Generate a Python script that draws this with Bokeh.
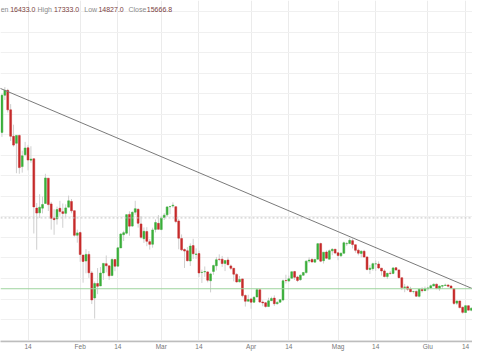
import pandas as pd
from bokeh.plotting import figure
from bokeh.models import Range1d, FixedTicker, Span, Label, ColumnDataSource
from bokeh.embed import file_html
from bokeh.resources import INLINE

# ---------------- data ----------------
start_date = "2018-01-05"
end_date = "2018-06-16"

jan_open = [15120, 16930, 17170, 16220, 14930, 14588, 14968, 13453, 14032, 14370, 13767, 13836, 11431, 11198, 11429, 11656, 12889, 11634, 10944, 10904, 11421, 11256, 11174, 11475, 11755, 11306, 10109]
jan_high = [17000, 17330, 17250, 16500, 15497, 14973, 15018, 14229, 14659, 14511, 14445, 13843, 11678, 12107, 11992, 13103, 12895, 11734, 11377, 11502, 11785, 11656, 11614, 12040, 11875, 11307, 10382]
jan_low = [14900, 16700, 16087, 14700, 14424, 13131, 13105, 13158, 13953, 13268, 13642, 10194, 9402, 10942, 11172, 11656, 11289, 10382, 10130, 10626, 11057, 10470, 10989, 11475, 11179, 10036, 9745]
jan_close = [16930, 17170, 16220, 14930, 14500, 14973, 13405, 13980, 14360, 13772, 13819, 11490, 11188, 11474, 11607, 12899, 11600, 10931, 10868, 11359, 11259, 11171, 11440, 11786, 11296, 10106, 10221]

feb_open = [10237, 9142, 8852, 9175, 8270, 7051, 7755, 7637, 8271, 8720, 8616, 8141, 8927, 8599, 9489, 10136, 10207, 11124, 10553, 11232, 11372, 10660, 9937, 10287, 9796, 9669, 10393, 10687]
feb_high = [10288, 9142, 9430, 9334, 8364, 7850, 8509, 8558, 8736, 9122, 8616, 8985, 8927, 9518, 10219, 10324, 11139, 11275, 11274, 11786, 11418, 11039, 10487, 10501, 9923, 10475, 10878, 11089]
feb_low = [8812, 7796, 8252, 8031, 6756, 6048, 7236, 7637, 7932, 8295, 7931, 8141, 8354, 8599, 9489, 9824, 10150, 10081, 10513, 11100, 10479, 9939, 9734, 9574, 9407, 9501, 10246, 10393]
feb_close = [9170, 8830, 9174, 8277, 6955, 7754, 7621, 8265, 8736, 8621, 8129, 8926, 8598, 9494, 10166, 10233, 11112, 10551, 11225, 11403, 10690, 10005, 10301, 9813, 9664, 10366, 10725, 10397]

mar_open = [10385, 10977, 11101, 11497, 11532, 11500, 10803, 9951, 9414, 9350, 8852, 9602, 9173, 9214, 8290, 8322, 8321, 7890, 8344, 8619, 8937, 8939, 8736, 8901, 8613, 8498, 8200, 7836, 7979, 7172, 6892]
mar_high = [11052, 11189, 11528, 11512, 11710, 11500, 10899, 10147, 9466, 9531, 9711, 9937, 9470, 9355, 8428, 8585, 8346, 8275, 8675, 9051, 9177, 9100, 8879, 9052, 8682, 8499, 8255, 8122, 7990, 7224, 7207]
mar_low = [10352, 10850, 11002, 11136, 11443, 10694, 9422, 9336, 8513, 8828, 8607, 8956, 8958, 8068, 7783, 8083, 7812, 7323, 8182, 8389, 8846, 8564, 8360, 8665, 8408, 7860, 7795, 7809, 7081, 6632, 6892]
mar_close = [10951, 11086, 11489, 11512, 11573, 10779, 9965, 9395, 9337, 8866, 9578, 9205, 9194, 8269, 8300, 8338, 7916, 8223, 8630, 8913, 8929, 8728, 8879, 8668, 8495, 8209, 7833, 7954, 7165, 6891, 6973]

apr_open = [7003, 6844, 7102, 7456, 6849, 6816, 6631, 6919, 7044, 6771, 6843, 6955, 7901, 7874, 8013, 8337, 8071, 7944, 8159, 8286, 8848, 8925, 8795, 8940, 9701, 8867, 9290, 8939, 9346, 9427]
apr_high = [7060, 7135, 7530, 7469, 6933, 6857, 7062, 7111, 7178, 6893, 6968, 7950, 8183, 8140, 8338, 8371, 8131, 8197, 8298, 8880, 9035, 9001, 8958, 9732, 9745, 9281, 9368, 9413, 9482, 9431]
apr_low = [6526, 6816, 7072, 6803, 6645, 6575, 6621, 6919, 6661, 6727, 6834, 6896, 7758, 7846, 8013, 7925, 7824, 7886, 8139, 8244, 8757, 8780, 8794, 8927, 8793, 8727, 8975, 8931, 9134, 9186]
apr_close = [6845, 7083, 7456, 6853, 6811, 6636, 6911, 7023, 6770, 6834, 6968, 7889, 7895, 7986, 8329, 8058, 7902, 8163, 8294, 8845, 8895, 8802, 8930, 9697, 8845, 9281, 8987, 9348, 9419, 9240]

may_open = [9251, 9104, 9233, 9695, 9700, 9845, 9645, 9380, 9223, 9325, 9052, 8441, 8478, 8713, 8705, 8504, 8370, 8092, 8255, 8246, 8522, 8419, 8037, 7562, 7592, 7487, 7362, 7371, 7130, 7469, 7406]
may_high = [9255, 9256, 9798, 9779, 9964, 9940, 9645, 9462, 9374, 9396, 9052, 8664, 8773, 8881, 8836, 8504, 8445, 8275, 8372, 8562, 8557, 8423, 8037, 7735, 7659, 7595, 7399, 7419, 7531, 7573, 7608]
may_low = [8891, 9051, 9188, 9585, 9695, 9465, 9258, 9127, 9031, 9040, 8394, 8223, 8378, 8367, 8456, 8143, 8054, 7972, 8183, 8205, 8365, 8004, 7433, 7331, 7397, 7340, 7270, 7113, 7076, 7313, 7391]
may_close = [9119, 9235, 9743, 9700, 9858, 9654, 9373, 9234, 9325, 9043, 8441, 8504, 8723, 8716, 8510, 8368, 8094, 8250, 8247, 8514, 8418, 8042, 7557, 7588, 7480, 7355, 7368, 7136, 7472, 7406, 7494]

jun_open = [7500, 7537, 7633, 7722, 7501, 7625, 7660, 7685, 7632, 7499, 6799, 6905, 6596, 6342, 6674, 6454]
jun_high = [7590, 7701, 7758, 7754, 7643, 7680, 7751, 7698, 7683, 7499, 6910, 6907, 6631, 6707, 6681, 6592]
jun_low = [7397, 7486, 7626, 7474, 7397, 7502, 7660, 7558, 7499, 6709, 6706, 6542, 6285, 6334, 6456, 6403]
jun_close = [7541, 7644, 7720, 7514, 7634, 7653, 7679, 7624, 7531, 6786, 6906, 6582, 6349, 6675, 6456, 6550]

tick_dates = ["2018-01-14", "2018-02-01", "2018-02-14", "2018-03-01", "2018-03-14", "2018-04-01",
              "2018-04-14", "2018-05-01", "2018-05-14", "2018-06-01", "2018-06-14"]
tick_labels = ["14", "Feb", "14", "Mar", "14", "Apr", "14", "Mag", "14", "Giu", "14"]

trend_dates = ["2018-01-04", "2018-06-17"]
trend_values = [17290, 7467]

resistance_level = 10952
support_level = 7500
grid_levels = list(range(5000, 22000, 1000))

header_names = ["en", "High", "Low", "Close"]
header_values = ["16433.0", "17333.0", "14827.0", "15666.8"]

# ---------------- build ----------------
opens = jan_open + feb_open + mar_open + apr_open + may_open + jun_open
highs = jan_high + feb_high + mar_high + apr_high + may_high + jun_high
lows = jan_low + feb_low + mar_low + apr_low + may_low + jun_low
closes = jan_close + feb_close + mar_close + apr_close + may_close + jun_close

origin = pd.Timestamp("2018-01-14")
dates = pd.date_range(start_date, end_date, freq="D")
days = [int(v) for v in (dates - origin).days]

GREEN = "#3aae3a"
RED = "#c62a2a"

src = ColumnDataSource(dict(
    x=days, o=opens, h=highs, l=lows, c=closes,
    top=[max(o, c) for o, c in zip(opens, closes)],
    bottom=[min(o, c) for o, c in zip(opens, closes)],
    color=[GREEN if c >= o else RED for o, c in zip(opens, closes)],
))

p = figure(width=472, height=352, output_backend="svg", toolbar_location=None,
           title=None, y_axis_location=None,
           x_range=Range1d(-9.5, 153.4), y_range=Range1d(4929, 21548))
p.min_border = 0
p.min_border_left = 0
p.min_border_right = 0
p.min_border_top = 0
p.min_border_bottom = 11
p.outline_line_color = None
p.background_fill_color = "white"

tick_days = [int((pd.Timestamp(t) - origin).days) for t in tick_dates]
p.xaxis.ticker = FixedTicker(ticks=tick_days)
p.xaxis.major_label_overrides = {d: lab for d, lab in zip(tick_days, tick_labels)}
p.xaxis.axis_line_color = "#bdbdbd"
p.xaxis.axis_line_width = 1.5
p.xaxis.major_tick_line_color = None
p.xaxis.major_tick_out = 0
p.xaxis.major_tick_in = 0
p.xaxis.minor_tick_line_color = None
p.xaxis.minor_tick_out = 0
p.xaxis.major_label_standoff = 1
p.xaxis.major_label_text_font = "Liberation Sans"
p.xaxis.major_label_text_font_size = "6.5px"
p.xaxis.major_label_text_color = "#777777"

p.xgrid.ticker = FixedTicker(ticks=tick_days)
p.xgrid.grid_line_color = "#ebebeb"
p.ygrid.ticker = FixedTicker(ticks=grid_levels)
p.ygrid.grid_line_color = "#f0f0f0"

p.add_layout(Span(location=resistance_level, dimension="width", line_color="#c4c4c4",
                  line_dash="2 2", line_width=1))
p.add_layout(Span(location=support_level, dimension="width", line_color="#9fd49f",
                  line_width=1))

p.segment(x0="x", y0="l", x1="x", y1="h", source=src, line_color="#cfcfcf", line_width=1)
p.vbar(x="x", width=0.65, top="top", bottom="bottom", fill_color="color",
       line_color="color", line_width=0.5, source=src)

trend_days = [int((pd.Timestamp(t) - origin).days) for t in trend_dates]
p.line(x=trend_days, y=trend_values, line_color="#7a7a7a", line_width=1)

# header (OHLC readout), placed at the reference text positions (in day units)
name_x = [-9.45, 5.77, 21.65, 37.73]
name_align = ["left", "center", "center", "center"]
value_x = [-1.8, 13.30, 28.67, 45.37]
for i in range(4):
    p.add_layout(Label(x=name_x[i], y=21095, text=header_names[i],
                       text_align=name_align[i], text_baseline="middle",
                       text_font="Liberation Sans", text_font_size="7px",
                       text_color="#8c8c8c"))
    p.add_layout(Label(x=value_x[i], y=21095, text=header_values[i],
                       text_align="center", text_baseline="middle",
                       text_font="Liberation Sans", text_font_size="7px",
                       text_color="#7a3e3e"))

open("out.html", "w").write(file_html(p, INLINE))
